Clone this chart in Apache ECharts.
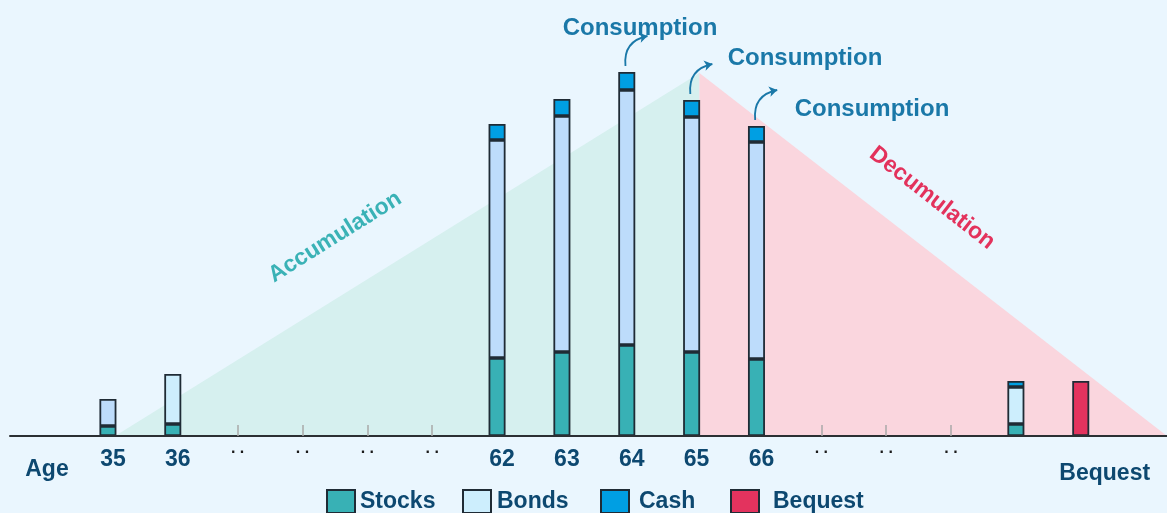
<!DOCTYPE html>
<html><head><meta charset="utf-8">
<script src="https://cdn.jsdelivr.net/npm/echarts@6/dist/echarts.min.js"></script>
<style>html,body{margin:0;padding:0;background:#eaf6fe}#c{width:1167px;height:513px}</style>
</head><body><div id="c"></div>
<script>
// ---- data ----
const ageLabels = ['35','36','..','..','..','..','62','63','64','65','66','..','..','..','',''];
const stocks  = [10, 12, null, null, null, null, 78, 84, 91, 84, 77, null, null, null, 12, null];
const bonds   = [27, 50, null, null, null, null, 218, 236, 255, 235, 217, null, null, null, 37, null];
const cash    = [null, null, null, null, null, null, 16, 17, 18, 17, 16, null, null, null, 6, null];
const bequest = [null, null, null, null, null, null, null, null, null, null, null, null, null, null, null, 55];
const consumptionAt = [8, 9, 10];
const accumulationPhase = [[0.11, 0], [9.12, 363]];
const decumulationPhase = [[9.12, 363], [16.33, 0]];
const extraLabels = [[-0.94, 'Age'], [15.37, 'Bequest']];

// ---- styles ----
const FONT = 'Liberation Sans, Arial, sans-serif';
const DARK = '#0d4870';
const lighterBondIdx = [1, 14];
const border = { borderColor: '#1f2b35', borderWidth: 1.8 };
const numIdx = ageLabels.map((l, i) => (/^\d+$/.test(l) ? i : -1)).filter(i => i >= 0);
const dotIdx = ageLabels.map((l, i) => (l === '..' ? i : -1)).filter(i => i >= 0);
const xMin = -1.51, xMax = 16.33, yMax = 436;
const W = 1167, GL = 10;
const unit = (W - GL) / (xMax - xMin);
const catLeft = GL + (-0.5 - xMin) * unit;
const catRight = W - (GL + (ageLabels.length - 0.5 - xMin) * unit);

const toData = arr => arr.map(v => (v == null ? '-' : v));
const totals = stocks.map((s, i) => (s || 0) + (bonds[i] || 0) + (cash[i] || 0));

const baseX = { type: 'value', min: xMin, max: xMax, splitLine: { show: false }, z: 3, gridIndex: 0 };

const option = {
  backgroundColor: '#eaf6fe',
  animation: false,
  grid: [
    { left: GL, right: 0, top: 0, bottom: 77 },
    { left: catLeft, right: catRight, top: 0, bottom: 77 }
  ],
  xAxis: [
    Object.assign({}, baseX, {
      position: 'bottom',
      axisLine: { show: true, lineStyle: { color: '#2b2f33', width: 2 } },
      axisTick: { show: false },
      axisLabel: {
        customValues: numIdx, margin: 12,
        formatter: v => '{n|' + ageLabels[Math.round(v)] + '}',
        rich: { n: { fontFamily: FONT, fontSize: 23, fontWeight: 'bold', color: DARK, padding: [0, 0, 0, 10] } }
      }
    }),
    Object.assign({}, baseX, {
      position: 'bottom',
      axisLine: { show: false },
      axisTick: { show: true, customValues: dotIdx, inside: true, length: 11, lineStyle: { color: '#a9a9a9', width: 1.5 } },
      axisLabel: { customValues: dotIdx, margin: 5, formatter: () => '. .', fontFamily: FONT, fontSize: 16, fontWeight: 'bold', color: '#1a1a1a' }
    }),
    Object.assign({}, baseX, {
      position: 'bottom',
      axisLine: { show: false },
      axisTick: { show: false },
      axisLabel: {
        customValues: extraLabels.map(e => e[0]), margin: 22,
        formatter: v => (v < 0 ? '{a|' + extraLabels[0][1] + '}' : '{b|' + extraLabels[1][1] + '}'),
        rich: {
          a: { fontFamily: FONT, fontSize: 23, fontWeight: 'bold', color: DARK },
          b: { fontFamily: FONT, fontSize: 23, fontWeight: 'bold', color: DARK, padding: [4, 0, 0, 0] }
        }
      }
    }),
    {
      type: 'category', gridIndex: 1, data: ageLabels, show: false
    }
  ],
  yAxis: [
    { type: 'value', min: 0, max: yMax, show: false, gridIndex: 0 },
    { type: 'value', min: 0, max: yMax, show: false, gridIndex: 1 }
  ],
  legend: [
    { name: 'Stocks', left: 326, pad: 5 },
    { name: 'Bonds', left: 462, pad: 6 },
    { name: 'Cash', left: 600, pad: 10 },
    { name: 'Bequest', left: 730, pad: 14 }
  ].map(l => ({
    data: [l.name], left: l.left, top: 489, padding: 0, itemWidth: 28, itemHeight: 23,
    icon: 'rect', selectedMode: false,
    textStyle: { fontFamily: FONT, fontSize: 23, fontWeight: 'bold', color: DARK, padding: [0, 0, 0, l.pad - 5] }
  })),
  series: [
    {
      type: 'line', name: 'acc', data: accumulationPhase, showSymbol: false, silent: true, z: 1,
      lineStyle: { opacity: 0 }, areaStyle: { color: '#d6f0ef', opacity: 1 }
    },
    {
      type: 'line', name: 'dec', data: decumulationPhase, showSymbol: false, silent: true, z: 1,
      lineStyle: { opacity: 0 }, areaStyle: { color: '#fad6de', opacity: 1 }
    },
    {
      type: 'bar', name: 'Stocks', stack: 'w', barWidth: 17, data: toData(stocks), z: 2,
      xAxisIndex: 3, yAxisIndex: 1,
      itemStyle: Object.assign({ color: '#38b1b5' }, border)
    },
    {
      type: 'bar', name: 'Bonds', stack: 'w', barWidth: 17, z: 2, xAxisIndex: 3, yAxisIndex: 1,
      data: toData(bonds).map((d, i) => lighterBondIdx.includes(i) ? d : { value: d, itemStyle: { color: '#bddcfb' } }),
      itemStyle: Object.assign({ color: '#cdeefd' }, border)
    },
    {
      type: 'bar', name: 'Cash', stack: 'w', barWidth: 17, data: toData(cash), z: 2,
      xAxisIndex: 3, yAxisIndex: 1,
      itemStyle: Object.assign({ color: '#009fe3' }, border)
    },
    {
      type: 'bar', name: 'Bequest', stack: 'w', barWidth: 17, data: toData(bequest), z: 2,
      xAxisIndex: 3, yAxisIndex: 1,
      itemStyle: Object.assign({ color: '#e3335e' }, border)
    },
    {
      type: 'lines', coordinateSystem: 'cartesian2d', z: 4, silent: true,
      symbol: ['none', 'arrow'], symbolSize: 8,
      lineStyle: { color: '#1a78a8', width: 1.8, curveness: 0.45, opacity: 1 },
      data: consumptionAt.map(i => ({ coords: [[i - 0.02, totals[i] + 6], [i + 0.32, totals[i] + 36]] }))
    }
  ],
  graphic: [
    { type: 'text', x: 335, y: 237, rotation: 32 * Math.PI / 180, z: 10,
      style: { text: 'Accumulation', x: 0, y: 0, align: 'center', verticalAlign: 'middle', font: 'bold 23px ' + FONT, fill: '#3ab2b6' } },
    { type: 'text', x: 932, y: 198, rotation: -38 * Math.PI / 180, z: 10,
      style: { text: 'Decumulation', x: 0, y: 0, align: 'center', verticalAlign: 'middle', font: 'bold 23px ' + FONT, fill: '#e3325c' } },
    ...[[640, 28], [805, 58], [872, 109]].map(p => ({
      type: 'text', x: p[0], y: p[1], z: 10,
      style: { text: 'Consumption', x: 0, y: 0, align: 'center', verticalAlign: 'middle', font: 'bold 24px ' + FONT, fill: '#1a78a8' }
    }))
  ]
};

const chart = echarts.init(document.getElementById('c'), null, { renderer: 'canvas' });
chart.setOption(option);
</script>
</body></html>
